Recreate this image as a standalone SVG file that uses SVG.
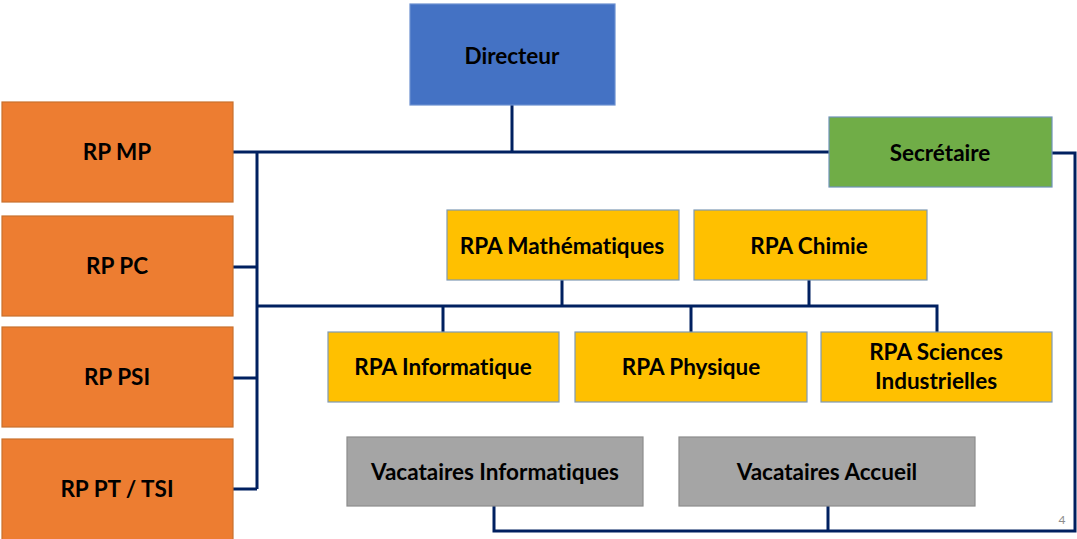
<svg xmlns="http://www.w3.org/2000/svg" width="1077" height="539" viewBox="0 0 1077 539">
<style>
.lbl{font-family:Lato,"Open Sans","Liberation Sans",sans-serif;font-weight:bold;font-size:22.5px;fill:#000;text-anchor:middle;font-variant-ligatures:none;font-feature-settings:"liga" 0}
.or{fill:#ED7D31;stroke:#C9712E;stroke-width:1.2}
.bl{fill:#4472C4;stroke:#6A8FD0;stroke-width:1.2}
.gr{fill:#70AD47;stroke:#6F93B8;stroke-width:1.2}
.ye{fill:#FFC000;stroke:#7F9AB5;stroke-width:1.2}
.gy{fill:#A5A5A5;stroke:#8C8C8C;stroke-width:1.2}
.ln{fill:none;stroke:#002060;stroke-width:3}
</style>
<rect width="1077" height="539" fill="#fff"/>
<g id="connectors">
<path class="ln" d="M512,105V152M233,152H829M257,152V489M233,267H257M233,378H257M233,489H257M257,306H937V332M562,280V306M809,280V306M443,306V332M691,306V332"/>
<path class="ln" d="M1052,153H1075V531H494V506M828,506V531"/>
</g>
<g id="directeur"><rect class="bl" x="410" y="4" width="205" height="101"/><text class="lbl" x="512" y="64">Directeur</text></g>
<g id="rp-mp"><rect class="or" x="2" y="102" width="231" height="100"/><text class="lbl" x="117" y="160">RP MP</text></g>
<g id="rp-pc"><rect class="or" x="2" y="216" width="231" height="100"/><text class="lbl" x="117" y="274">RP PC</text></g>
<g id="rp-psi"><rect class="or" x="2" y="327" width="231" height="100"/><text class="lbl" x="117" y="385">RP PSI</text></g>
<g id="rp-pt-tsi"><rect class="or" x="2" y="439" width="231" height="110"/><text class="lbl" x="117" y="497">RP PT / TSI</text></g>
<g id="secretaire"><rect class="gr" x="829" y="117" width="223" height="70"/><text class="lbl" x="940" y="161">Secrétaire</text></g>
<g id="rpa-math"><rect class="ye" x="447" y="210" width="232" height="70"/><text class="lbl" x="562" y="254">RPA Mathématiques</text></g>
<g id="rpa-chimie"><rect class="ye" x="694" y="210" width="233" height="70"/><text class="lbl" x="809" y="254">RPA Chimie</text></g>
<g id="rpa-info"><rect class="ye" x="328" y="332" width="231" height="70"/><text class="lbl" x="443" y="375">RPA Informatique</text></g>
<g id="rpa-phys"><rect class="ye" x="575" y="332" width="232" height="70"/><text class="lbl" x="691" y="375">RPA Physique</text></g>
<g id="rpa-si"><rect class="ye" x="821" y="332" width="231" height="70"/><text class="lbl" x="936" y="360">RPA Sciences</text><text class="lbl" x="936" y="389">Industrielles</text></g>
<g id="vac-info"><rect class="gy" x="347" y="437" width="296" height="69"/><text class="lbl" x="495" y="480">Vacataires Informatiques</text></g>
<g id="vac-accueil"><rect class="gy" x="679" y="437" width="296" height="69"/><text class="lbl" x="827" y="480">Vacataires Accueil</text></g>
<text x="1062" y="524" font-family="Lato,'Liberation Sans',sans-serif" font-size="12" fill="#8C8C8C" text-anchor="middle">4</text>
</svg>
